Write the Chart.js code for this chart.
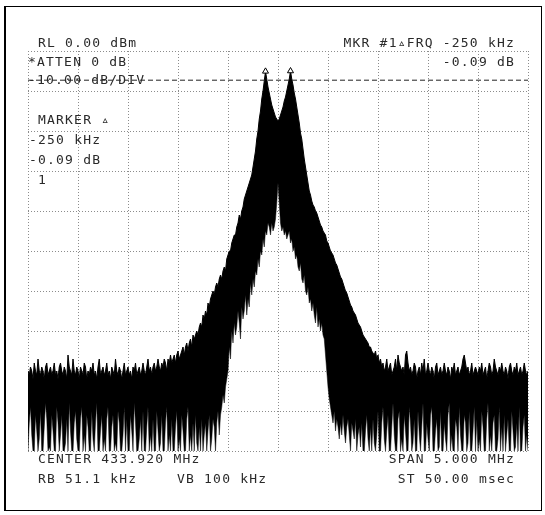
<!DOCTYPE html>
<html>
<head>
<meta charset="utf-8">
<script src="https://cdn.jsdelivr.net/npm/chart.js@4/dist/chart.umd.min.js"></script>
<style>
  html, body { margin: 0; padding: 0; background: #fff; }
  canvas { display: block; }
</style>
</head>
<body>
<canvas id="sa" width="545" height="515"></canvas>
<script>
// Sweep settings (kHz offset from centre frequency), 401 trace points
const sweepStartKHz = -2500;
const sweepStepKHz = 12.5;
const sweepEndKHz = 2500;
const bottomDBm = -100;
const refLevelDBm = 0;

// Upper edge of the sampled trace, dBm (20 points per row)
const traceMax = [
  -80,-81,-79,-80,-82,-78,-80,-81,-77,-80,-81,-79,-80,-82,-79,-78,-81,-80,-79,-81,
  -80,-78,-81,-80,-82,-79,-78,-80,-81,-79,-80,-82,-76,-79,-80,-81,-77,-80,-81,-79,
  -80,-82,-79,-80,-81,-78,-79,-82,-80,-81,-79,-80,-78,-81,-80,-82,-79,-77,-81,-80,
  -79,-81,-80,-78,-81,-80,-82,-79,-80,-81,-77,-80,-81,-79,-80,-82,-80,-78,-81,-80,
  -79,-81,-80,-82,-79,-80,-78,-81,-80,-79,-81,-80,-78,-80,-81,-79,-77,-80,-79,-81,
  -79,-78,-80,-79,-77,-79,-80,-78,-79,-77,-78,-80,-77,-78,-76,-78,-77,-76,-78,-76,
  -75,-77,-76,-75,-74,-76,-74,-73,-75,-73,-72,-74,-71,-72,-71,-70,-71,-69,-68,-69,
  -66,-67,-65,-66,-63,-64,-62,-61,-60,-61,-59,-58,-59,-57,-56,-57,-55,-54,-55,-52,
  -51,-50,-50,-48,-47,-46,-46,-44,-43,-41,-42,-40,-39,-37,-36,-35,-34,-33,-32,-31,
  -29,-27,-25,-22,-20,-17,-15,-12,-10,-7.5,-5.09,-7,-9,-10.5,-12,-13.5,-14.5,-15.5,-16.5,-17,
  -17.5,-17,-16,-15,-14,-12.5,-11.5,-10,-8.5,-7,-5,-7,-8.5,-10.5,-12,-14,-16,-18,-20.5,-22,
  -24.5,-27,-29,-31,-33,-35,-36,-37.5,-38.5,-39,-40,-40.5,-41.5,-42.5,-43.5,-44,-45,-45.5,-46,-47.5,
  -48,-49,-50,-50.5,-51,-52,-53,-53.5,-54.5,-55.5,-56.5,-57,-58,-59,-60,-60.5,-61.5,-62.5,-63.5,-64,
  -65,-65.5,-66,-67,-68,-68.5,-69,-70,-71,-71.5,-72,-72.5,-73,-74,-74,-75,-75.5,-76,-75,-77,
  -76,-78,-77,-79,-78,-80,-79,-77,-80,-79,-78,-81,-80,-79,-77,-80,-76,-78,-79,-80,
  -79,-81,-76,-75,-78,-80,-79,-81,-80,-78,-79,-82,-80,-79,-81,-78,-80,-77,-81,-80,
  -78,-80,-81,-79,-80,-82,-79,-78,-81,-80,-79,-81,-80,-78,-80,-81,-79,-80,-82,-79,
  -80,-78,-81,-80,-79,-81,-80,-79,-77,-76,-78,-80,-79,-81,-80,-78,-81,-80,-79,-80,
  -81,-79,-80,-78,-81,-80,-79,-82,-80,-78,-79,-81,-80,-77,-79,-80,-81,-79,-80,-78,
  -80,-81,-79,-80,-82,-79,-78,-80,-81,-79,-80,-78,-81,-80,-79,-81,-80,-78,-80,-81,
  -80
];

// Lower edge of the sampled trace, dBm (20 points per row)
const traceMin = [
  -100,-93,-89,-96,-100,-100,-91,-95,-100,-97,-90,-100,-100,-94,-88,-92,-100,-99,-100,-91,
  -95,-100,-100,-89,-93,-100,-96,-91,-100,-100,-98,-92,-100,-88,-95,-100,-100,-93,-90,-97,
  -100,-100,-92,-89,-100,-96,-100,-91,-94,-100,-100,-90,-97,-100,-93,-88,-100,-100,-95,-91,
  -100,-97,-100,-92,-89,-100,-100,-94,-91,-100,-98,-100,-90,-93,-100,-100,-96,-89,-100,-92,
  -100,-100,-91,-95,-100,-88,-93,-100,-100,-97,-92,-100,-90,-100,-100,-94,-89,-100,-96,-100,
  -92,-100,-100,-90,-95,-100,-98,-91,-100,-100,-93,-89,-100,-96,-100,-92,-100,-100,-94,-90,
  -100,-97,-100,-91,-95,-100,-100,-92,-89,-100,-96,-100,-93,-100,-91,-98,-100,-94,-100,-92,
  -100,-96,-93,-100,-95,-91,-100,-97,-92,-94,-100,-93,-90,-96,-91,-89,-86,-88,-84,-82,
  -80,-74,-77,-70,-73,-68,-71,-69,-65,-68,-72,-64,-67,-65,-61,-66,-62,-64,-58,-61,
  -57,-59,-55,-56,-52,-54,-50,-51,-47,-49,-45,-46,-43,-44,-46,-43,-45,-44,-42,-38,
  -33,-38,-43,-45,-44,-46,-45,-47,-46,-45,-48,-47,-50,-49,-52,-51,-54,-55,-53,-57,
  -58,-56,-60,-61,-59,-63,-62,-65,-63,-66,-68,-64,-69,-67,-70,-68,-71,-72,-76,-80,
  -84,-87,-89,-91,-93,-90,-95,-92,-94,-97,-93,-96,-91,-95,-98,-94,-92,-96,-100,-93,
  -95,-97,-92,-100,-96,-94,-99,-93,-100,-100,-95,-91,-97,-100,-94,-100,-92,-98,-100,-96,
  -90,-100,-100,-93,-89,-97,-100,-95,-91,-100,-100,-94,-88,-96,-100,-100,-92,-90,-100,-97,
  -100,-91,-95,-100,-100,-89,-93,-100,-98,-92,-100,-100,-90,-96,-100,-94,-88,-100,-100,-93,
  -97,-100,-91,-89,-100,-100,-95,-92,-100,-99,-90,-100,-100,-93,-97,-100,-91,-88,-100,-96,
  -100,-100,-92,-94,-100,-89,-96,-100,-100,-91,-93,-100,-98,-90,-100,-100,-95,-89,-100,-92,
  -100,-97,-100,-90,-94,-100,-100,-92,-88,-100,-96,-100,-93,-91,-100,-100,-97,-89,-100,-94,
  -100,-91,-100,-96,-92,-100,-100,-90,-95,-100,-99,-93,-100,-89,-100,-100,-94,-91,-100,-96,
  -100
];

// Markers: reference marker #1 and its delta partner
const markerRefKHz = 125,  markerRefDBm = -5.00;
const markerDeltaKHz = -125, markerDeltaDBm = -5.09;

// Display line level
const displayLineDBm = -7.3;

// Annotation text
const txtRef = 'RL 0.00 dBm';
const txtAtten = '*ATTEN 0 dB';
const txtScale = '-10.00 dB/DIV';
const txtMkrHead = 'MKR #1\u25B5FRQ -250 kHz';
const txtMkrAmp = '-0.09 dB';
const txtMarker = ['MARKER \u25B5', '-250 kHz', '-0.09 dB', '1'];
const txtCenter = 'CENTER 433.920 MHz';
const txtSpan = 'SPAN 5.000 MHz';
const txtRbw = 'RB 51.1 kHz';
const txtVbw = 'VB 100 kHz';
const txtSweep = 'ST 50.00 msec';

const toPoints = arr => arr.map((v, i) => ({ x: sweepStartKHz + i * sweepStepKHz, y: v }));

const screenText = {
  id: 'screenText',
  afterDraw(chart) {
    const ctx = chart.ctx;
    ctx.save();
    // instrument frame
    ctx.strokeStyle = '#000';
    ctx.lineWidth = 1;
    ctx.strokeRect(5.5, 6.5, 536, 504);
    ctx.lineWidth = 2;
    ctx.beginPath(); ctx.moveTo(5, 6); ctx.lineTo(5, 511); ctx.stroke();

    ctx.fillStyle = '#2a2a2a';
    ctx.font = '13px "DejaVu Sans Mono"';
    ctx.letterSpacing = '1.2px';
    ctx.textBaseline = 'middle';
    const L = (t, x, y) => { ctx.textAlign = 'left'; ctx.fillText(t, x, y); };
    const R = (t, x, y) => { ctx.textAlign = 'right'; ctx.fillText(t, x, y); };
    L(txtRef, 38, 44);
    L(txtAtten, 28, 63);
    L(txtScale, 28, 81);
    R(txtMkrHead, 515, 44);
    R(txtMkrAmp, 515, 63);
    L(txtMarker[0], 38, 121);
    L(txtMarker[1], 29, 141);
    L(txtMarker[2], 29, 161);
    L(txtMarker[3], 38, 181);
    L(txtCenter, 38, 460);
    R(txtSpan, 515, 460);
    L(txtRbw, 38, 480);
    L(txtVbw, 177, 480);
    R(txtSweep, 515, 480);
    ctx.restore();
  }
};

const gridOpts = {
  display: true,
  color: '#8c8c8c',
  lineWidth: 1,
  drawTicks: false
};

new Chart(document.getElementById('sa'), {
  type: 'line',
  data: {
    datasets: [
      {
        label: 'trace max',
        data: toPoints(traceMax),
        borderColor: '#000',
        backgroundColor: '#000',
        borderWidth: 1,
        pointRadius: 0,
        fill: '+1',
        order: 2
      },
      {
        label: 'trace min',
        data: toPoints(traceMin),
        borderColor: '#000',
        borderWidth: 0.5,
        pointRadius: 0,
        fill: false,
        order: 2
      },
      {
        label: 'display line',
        data: [{ x: sweepStartKHz, y: displayLineDBm }, { x: sweepEndKHz, y: displayLineDBm }],
        borderColor: '#222',
        borderWidth: 1,
        borderDash: [5, 3],
        pointRadius: 0,
        fill: false,
        order: 1
      },
      {
        label: 'markers',
        data: [{ x: markerDeltaKHz, y: markerDeltaDBm }, { x: markerRefKHz, y: markerRefDBm }],
        showLine: false,
        pointStyle: 'triangle',
        pointRadius: 3.5,
        pointBorderWidth: 1,
        pointBorderColor: '#000',
        pointBackgroundColor: '#fff',
        order: 0,
        clip: false
      }
    ]
  },
  options: {
    responsive: false,
    devicePixelRatio: 1,
    animation: false,
    events: [],
    layout: { padding: { left: 28, right: 17, top: 51, bottom: 64 } },
    plugins: { legend: { display: false }, tooltip: { enabled: false } },
    elements: { line: { tension: 0 } },
    scales: {
      x: {
        type: 'linear',
        min: sweepStartKHz,
        max: sweepEndKHz,
        ticks: { display: false, stepSize: 500 },
        grid: gridOpts,
        border: { display: false, dash: [1, 2] },
        afterFit: s => { s.height = 0; }
      },
      y: {
        type: 'linear',
        min: bottomDBm,
        max: refLevelDBm,
        ticks: { display: false, stepSize: 10 },
        grid: gridOpts,
        border: { display: false, dash: [1, 2] },
        afterFit: s => { s.width = 0; }
      }
    }
  },
  plugins: [screenText]
});
</script>
</body>
</html>
